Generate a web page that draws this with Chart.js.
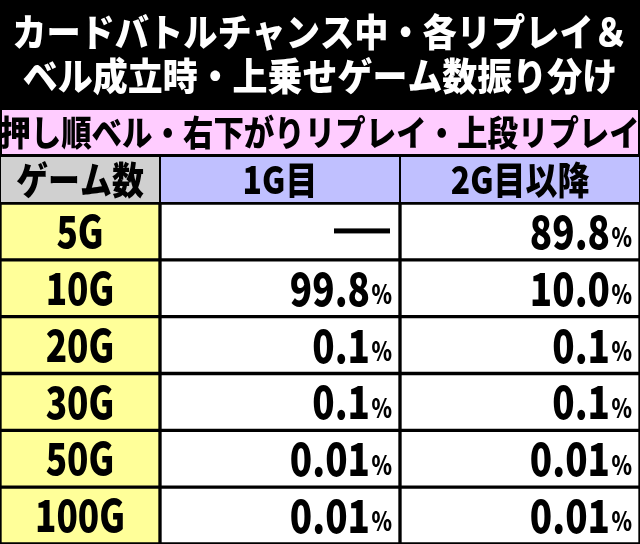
<!DOCTYPE html>
<html>
<head>
<meta charset="utf-8">
<script src="https://cdn.jsdelivr.net/npm/chart.js@4"></script>
<style>body{margin:0;background:#000}canvas{display:block}</style>
</head>
<body>
<canvas id="tbl" width="640" height="544"></canvas>
<script>
// table content
const titleLines = ["カードバトルチャンス中・各リプレイ＆", "ベル成立時・上乗せゲーム数振り分け"];
const subTitle = "押し順ベル・右下がりリプレイ・上段リプレイ";
const headers = ["ゲーム数", "1G目", "2G目以降"];
const games = ["5G", "10G", "20G", "30G", "50G", "100G"];
const firstG = [null, "99.8", "0.1", "0.1", "0.01", "0.01"];
const laterG = ["89.8", "10.0", "0.1", "0.1", "0.01", "0.01"];
const colEdges = [0, 160, 400, 640];

const FONT = '"Noto Sans CJK JP", sans-serif';

function condensedText(ctx, txt, x, y, size, align, sx) {
    ctx.save();
    ctx.font = "900 " + size + "px " + FONT;
    ctx.translate(x, y);
    ctx.scale(sx, 1);
    ctx.textAlign = align;
    ctx.textBaseline = "middle";
    ctx.fillText(txt, 0, 0);
    ctx.restore();
}

const tablePlugin = {
    id: "tablePlugin",
    beforeDatasetsDraw(chart) {
        const ctx = chart.ctx;
        ctx.save();
        ctx.fillStyle = "#000";
        ctx.fillRect(0, 0, 640, 544);
        // title
        ctx.fillStyle = "#fff";
        condensedText(ctx, titleLines[0], 320, 32, 38, "center", 0.9);
        condensedText(ctx, titleLines[1], 320, 76, 38, "center", 0.92);
        // pink band
        ctx.fillStyle = "#ffccff";
        ctx.fillRect(2, 110, 636, 44);
        ctx.fillStyle = "#000";
        condensedText(ctx, subTitle, 320, 133, 35, "center", 0.87);
        // header row
        const hc = ["#d0d0d0", "#c0c0ff", "#c0c0ff"];
        for (let i = 0; i < 3; i++) {
            const x0 = chart.scales.x.getPixelForValue(colEdges[i]);
            const x1 = chart.scales.x.getPixelForValue(colEdges[i + 1]);
            ctx.fillStyle = hc[i];
            ctx.fillRect(x0 + 1, 157, x1 - x0 - 2, 45);
            ctx.fillStyle = "#000";
            condensedText(ctx, headers[i], (x0 + x1) / 2, 180, 38, "center", 0.84);
        }
        ctx.restore();
    },
    afterDatasetsDraw(chart) {
        const ctx = chart.ctx;
        const xs = chart.scales.x;
        ctx.save();
        ctx.fillStyle = "#000";
        chart.getDatasetMeta(0).data.forEach((bar, i) => {
            const y = bar.y;
            condensedText(ctx, games[i], (xs.getPixelForValue(0) + xs.getPixelForValue(160)) / 2, y, 44, "center", 0.8);
            [firstG, laterG].forEach((col, c) => {
                const right = xs.getPixelForValue(colEdges[c + 2]) - 8;
                const v = col[i];
                if (v === null) {
                    ctx.fillRect(right - 58, y - 3, 56, 5);
                    return;
                }
                condensedText(ctx, "%", right, y + 6, 26, "right", 0.8);
                condensedText(ctx, v, right - 22, y, 46, "right", 0.8);
            });
        });
        ctx.restore();
    }
};

const fills = ["#ffff99", "#ffffff", "#ffffff"];
const datasets = fills.map((f, c) => ({
    data: games.map(() => [colEdges[c], colEdges[c + 1]]),
    backgroundColor: f,
    borderColor: "#000",
    borderWidth: 2,
    borderSkipped: false,
    barPercentage: 1,
    categoryPercentage: 1,
    grouped: false
}));

new Chart(document.getElementById("tbl"), {
    type: "bar",
    data: { labels: games, datasets: datasets },
    options: {
        indexAxis: "y",
        responsive: false,
        animation: false,
        layout: { padding: { top: 203, left: 0, right: 0, bottom: 0 } },
        plugins: { legend: { display: false }, tooltip: { enabled: false } },
        scales: {
            x: { type: "linear", min: 0, max: 640, display: false },
            y: { display: false }
        }
    },
    plugins: [tablePlugin]
});
</script>
</body>
</html>
